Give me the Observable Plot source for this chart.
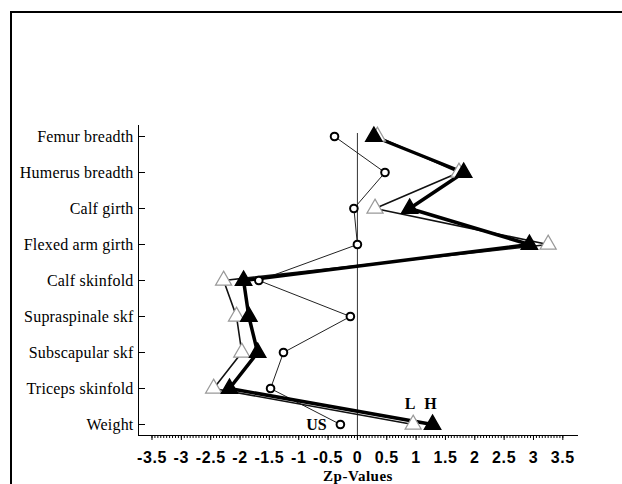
<!DOCTYPE html>
<html><head><meta charset="utf-8">
<script src="https://cdn.jsdelivr.net/npm/d3@7"></script>
<script src="https://cdn.jsdelivr.net/npm/@observablehq/plot@0.6"></script>
<style>
body{margin:0;background:#fff;}
#wrap{position:relative;width:622px;height:484px;overflow:hidden;background:#fff;}
#border{position:absolute;left:10px;top:11px;width:700px;height:600px;border-left:2px solid #000;border-top:2px solid #000;pointer-events:none;}
</style></head><body><div id="wrap"><div id="chart"></div><div id="border"></div></div>
<script>
const categories = ["Femur breadth","Humerus breadth","Calf girth","Flexed arm girth","Calf skinfold","Supraspinale skf","Subscapular skf","Triceps skinfold","Weight"];
const usValues = [-0.39, 0.47, -0.06, 0.0, -1.68, -0.12, -1.26, -1.48, -0.29];
const lValues  = [0.34, 1.73, 0.30, 3.25, -2.28, -2.06, -1.97, -2.45, 0.95];
const hValues  = [0.28, 1.81, 0.89, 2.93, -1.94, -1.85, -1.70, -2.18, 1.28];
const xTickValues = [-3.5,-3,-2.5,-2,-1.5,-1,-0.5,0,0.5,1,1.5,2,2.5,3,3.5];
const seriesLabels = ["US","L","H"];

const rows = (vals) => categories.map((c, i) => ({measure: c, value: vals[i]}));
const us = rows(usValues), lo = rows(lValues), hi = rows(hValues);
const last = categories.length - 1;
const minorTicks = d3.range(0, 141).map(i => -3.5 + i * 0.05);
const serif = "Liberation Serif, Times New Roman, serif";
const sans = "Liberation Sans, Arial, sans-serif";

const plot = Plot.plot({
  width: 622, height: 484,
  marginLeft: 138, marginRight: 45, marginTop: 125, marginBottom: 49,
  style: {background: "transparent", overflow: "visible"},
  x: {domain: [-3.73, 3.75]},
  y: {type: "point", domain: categories, padding: 0.245},
  marks: [
    Plot.ruleX([0], {insetTop: 8, stroke: "#333", strokeWidth: 1}),
    Plot.frame({anchor: "left", stroke: "#000"}),
    Plot.frame({anchor: "bottom", stroke: "#000"}),
    Plot.axisY({tickSize: -7, tickPadding: 12, label: null, fontFamily: serif, fontSize: 16}),
    Plot.axisX({ticks: minorTicks, tickSize: 3, tickFormat: () => "", label: null}),
    Plot.axisX({ticks: xTickValues, tickSize: 5, tickPadding: 11, tickFormat: d => String(d),
      fontFamily: sans, fontSize: 16, fontWeight: "bold",
      label: "Zp-Values", labelAnchor: "center", labelArrow: "none", labelOffset: 45}),
    Plot.line(us, {x: "value", y: "measure", stroke: "#222", strokeWidth: 1}),
    Plot.line(lo, {x: "value", y: "measure", stroke: "#111", strokeWidth: 1.6}),
    Plot.line(hi, {x: "value", y: "measure", stroke: "#000", strokeWidth: 3.5}),
    Plot.dot(lo, {x: "value", y: "measure", symbol: "triangle", r: 6, stroke: "#999", strokeWidth: 1.2, fill: "white"}),
    Plot.dot(hi, {x: "value", y: "measure", symbol: "triangle", r: 6, fill: "#000", stroke: "#000"}),
    Plot.dot(us, {x: "value", y: "measure", r: 3.8, stroke: "#000", strokeWidth: 2, fill: "white"}),
    Plot.text([us[last]], {x: "value", y: "measure", text: () => seriesLabels[0], dx: -24, fontFamily: serif, fontWeight: "bold", fontSize: 16}),
    Plot.text([lo[last]], {x: "value", y: "measure", text: () => seriesLabels[1], dx: -3, dy: -21, fontFamily: serif, fontWeight: "bold", fontSize: 16}),
    Plot.text([hi[last]], {x: "value", y: "measure", text: () => seriesLabels[2], dx: -2, dy: -21, fontFamily: serif, fontWeight: "bold", fontSize: 16})
  ]
});
const svg = d3.select(plot);
svg.selectAll('g[aria-label="y-axis tick label"] text')
  .style("font-family", serif).style("font-size", "16px").style("letter-spacing", "0.2px");
svg.selectAll('g[aria-label="x-axis tick label"] text')
  .style("font-family", sans).style("font-size", "16px").style("font-weight", "bold").style("letter-spacing", "0.6px");
svg.selectAll('g[aria-label="x-axis label"] text')
  .style("font-family", serif).style("font-size", "15px").style("font-weight", "bold").style("letter-spacing", "0.5px");
document.getElementById("chart").appendChild(plot);
</script></body></html>
